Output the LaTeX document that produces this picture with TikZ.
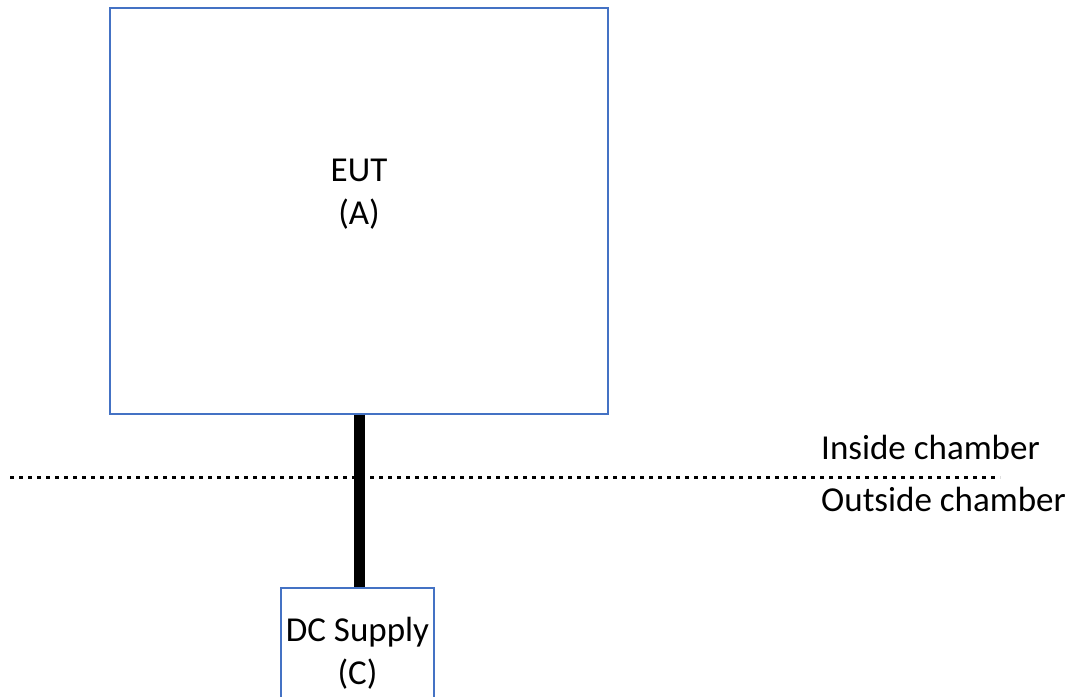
\documentclass[tikz,border=0pt]{standalone}
\usepackage{fontspec}
\setmainfont{Carlito}
\definecolor{boxblue}{HTML}{4472C4}
\begin{document}
\begin{tikzpicture}[x=1pt,y=-1pt,
  box/.style={draw=boxblue,line width=1.3pt,fill=white,inner sep=0pt,rectangle},
  lbl/.style={font=\fontsize{35}{43}\selectfont,align=center,inner sep=0pt},
  side/.style={font=\fontsize{35}{43}\selectfont,inner sep=0pt,anchor=base west}]
\useasboundingbox (0,0) rectangle (1073,696);
\node[box,minimum width=498pt,minimum height=406pt] (eut) at (359,211) {};
\node[lbl] (eutt) at (359,194) {EUT\\(A)};
\node[box,minimum width=153pt,minimum height=130pt,lbl] (dc) at (357.5,653) {DC Supply\\(C)};
\coordinate (dl) at (10,477);
\coordinate (dr) at (1000,477);
\draw[line width=3pt,dash pattern=on 3.5pt off 5.5pt] (dl) -- (dr);
\draw[line width=11pt] (eut.south) -- (eut.south |- dc.north);
\node[side] (in) at (821,459) {Inside chamber};
\node[side] (out) at (821,511) {Outside chamber};
\end{tikzpicture}
\end{document}
